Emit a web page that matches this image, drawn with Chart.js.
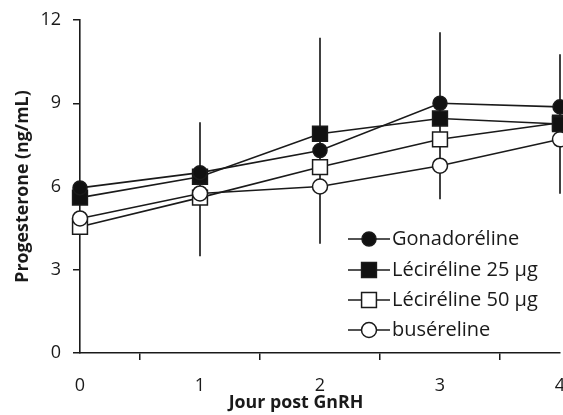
<!DOCTYPE html>
<html>
<head>
<meta charset="utf-8">
<script src="https://cdn.jsdelivr.net/npm/chart.js@4/dist/chart.umd.min.js"></script>
<style>
html,body{margin:0;padding:0;background:#fff;}
#wrap{width:563px;height:415px;position:relative;}
</style>
</head>
<body>
<div id="wrap"><canvas id="c" width="563" height="415"></canvas></div>
<script>
const days = [0, 1, 2, 3, 4];
const yTicks = [0, 3, 6, 9, 12];
const seriesNames = ['Gonadoréline', 'Lécir\u00e9line 25 \u00b5g', 'Lécir\u00e9line 50 \u00b5g', 'buséreline'];
const xTitle = 'Jour post GnRH';
const yTitle = 'Progesterone (ng/mL)';
const gonadoreline = [5.95, 6.5, 7.3, 9.0, 8.87];
const lecireline25 = [5.6, 6.35, 7.9, 8.45, 8.25];
const lecireline50 = [4.55, 5.6, 6.7, 7.7, 8.3];
const busereline = [4.85, 5.75, 6.0, 6.75, 7.7];
const errLow = [null, 3.5, 3.95, 5.55, 5.75];
const errHigh = [null, 8.3, 11.35, 11.55, 10.75];

const FONT = '"Open Sans", Lato, sans-serif';
const INK = '#1a1a1a';

function pts(arr){ return days.map((d,i)=>({x:d, y:arr[i]})); }

const styles = [
  {data: gonadoreline, pointStyle:'circle', radius:7, fill:'#111', order:1},
  {data: lecireline25, pointStyle:'rect', radius:10.5, fill:'#111', order:2},
  {data: lecireline50, pointStyle:'rect', radius:10.5, fill:'#fff', order:4},
  {data: busereline, pointStyle:'circle', radius:7.5, fill:'#fff', order:3}
];

const lineSets = styles.map((s,i)=>({
  type:'line',
  label: seriesNames[i],
  data: pts(s.data),
  borderColor: INK,
  borderWidth: 1.6,
  pointStyle: s.pointStyle,
  pointRadius: s.radius,
  pointBackgroundColor: s.fill,
  pointBorderColor: INK,
  pointBorderWidth: 1.5,
  tension: 0,
  clip: false,
  order: s.order
}));

const errSet = {
  type:'bar',
  label:'err',
  data: days.map((d,i)=> errLow[i]==null ? {x:d, y:null} : {x:d, y:[errLow[i], errHigh[i]]}),
  backgroundColor:'#333',
  borderWidth:0,
  barThickness:1.2,
  clip: false,
  order: 10
};

const textPlugin = {
  id:'textAndLegend',
  afterDraw(chart){
    const ctx = chart.ctx;
    const xs = chart.scales.x, ys = chart.scales.y;
    ctx.save();
    ctx.fillStyle = INK;
    // x tick labels
    ctx.font = '18px ' + FONT;
    ctx.textAlign = 'center';
    ctx.textBaseline = 'middle';
    days.forEach(d=>{ ctx.fillText(String(d), xs.getPixelForValue(d), xs.top + 33); });
    // axis titles
    ctx.font = 'bold 17.8px ' + FONT;
    ctx.fillText(xTitle, 296, 403);
    ctx.save();
    ctx.translate(23, (ys.top + ys.bottom) / 2);
    ctx.rotate(-Math.PI/2);
    ctx.fillText(yTitle, 0, 0);
    ctx.restore();
    // legend
    const x0 = 348, x1 = 390, xm = 369, tx = 392;
    const rows = [239, 270, 300, 330];
    styles.forEach((s,i)=>{
      const y = rows[i];
      ctx.strokeStyle = INK; ctx.lineWidth = 1.6;
      ctx.beginPath(); ctx.moveTo(x0,y); ctx.lineTo(x1,y); ctx.stroke();
      ctx.fillStyle = s.fill; ctx.strokeStyle = INK; ctx.lineWidth = 1.5;
      Chart.helpers.drawPoint(ctx, {pointStyle:s.pointStyle, radius:s.radius, rotation:0, borderWidth:1.5}, xm, y);
      ctx.fillStyle = INK;
      ctx.font = '20px ' + FONT;
      ctx.textBaseline = 'middle';
      ctx.textAlign = 'left';
      ctx.fillText(seriesNames[i], tx, y);
    });
    ctx.restore();
  }
};

new Chart(document.getElementById('c'), {
  data: { datasets: [...lineSets, errSet] },
  options: {
    responsive:false,
    animation:false,
    layout:{ autoPadding:false, padding:{ top:20, right:3, left:0, bottom:0 } },
    plugins:{ legend:{display:false}, tooltip:{enabled:false} },
    scales:{
      x:{
        type:'linear', min:0, max:4, offset:false,
        afterBuildTicks(scale){ scale.ticks = days.map(v=>({value:v})); },
        afterFit(scale){ scale.height = 62; scale.paddingLeft = 0; scale.paddingRight = 0; },
        border:{ display:true, color:INK, width:1.6 },
        grid:{ display:true, drawOnChartArea:false, drawTicks:true, tickLength:7, color:INK, lineWidth:1.5 },
        ticks:{ display:false },
        title:{ display:false }
      },
      y:{
        type:'linear', min:0, max:12,
        afterBuildTicks(scale){ scale.ticks = yTicks.map(v=>({value:v})); },
        afterFit(scale){ scale.width = 80; scale.paddingTop = 0; scale.paddingBottom = 0; },
        border:{ display:true, color:INK, width:1.6 },
        grid:{ display:true, drawOnChartArea:false, drawTicks:true, tickLength:7, color:INK, lineWidth:1.5 },
        ticks:{ font:{family:FONT, size:18}, color:INK, padding:12 },
        title:{ display:false }
      }
    }
  },
  plugins:[textPlugin]
});
</script>
</body>
</html>
